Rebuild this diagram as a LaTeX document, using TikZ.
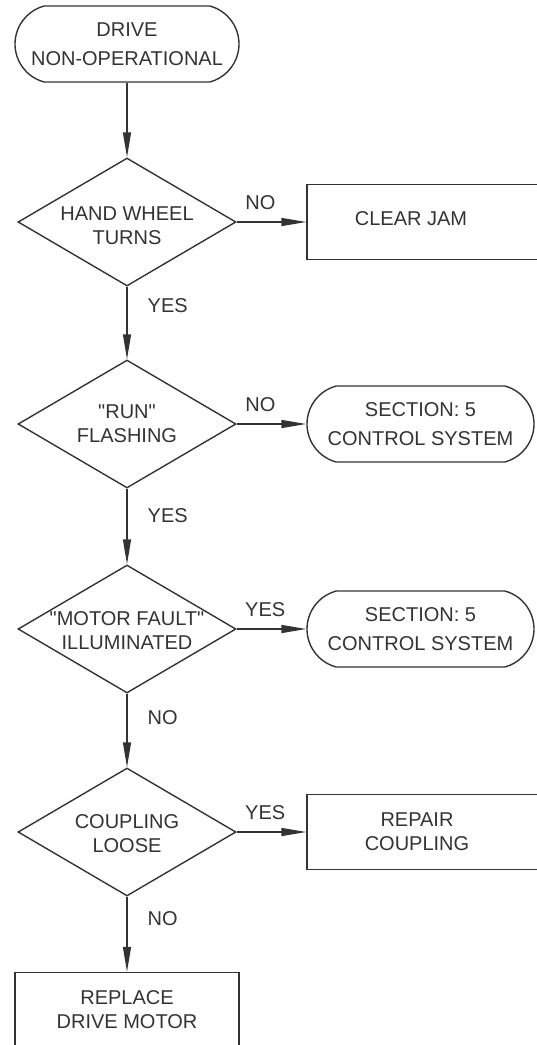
\documentclass[tikz,border=0pt]{standalone}
\usepackage{fontspec}
\setmainfont{Liberation Sans}[Ligatures=TeXOff]
\usetikzlibrary{shapes.geometric,shapes.misc,arrows.meta}

\newcommand{\boxfont}{\fontsize{20}{24}\selectfont}
\newcommand{\termfont}{\fontsize{20}{28.5}\selectfont}

\begin{document}
\begin{tikzpicture}[x=1pt,y=-1pt,line width=1.4pt,color=black!80,
    term/.style={rounded rectangle,rounded rectangle arc length=150,draw,
        minimum height=76,inner sep=0,align=center,font=\termfont},
    dec/.style={diamond,draw,minimum width=218,minimum height=128,inner sep=0},
    act/.style={rectangle,draw,minimum height=75,inner sep=0,align=center,font=\boxfont},
    txt/.style={align=center,font=\boxfont,inner sep=0},
    ans/.style={font=\boxfont,inner sep=2pt},
    flow/.style={-{Triangle[length=25pt,width=8pt]}}]

    % Page frame
    \useasboundingbox (0,0) rectangle (536,1045);

    % Start
    \node[term,minimum width=224] (start) at (127,44) {DRIVE\\NON-OPERATIONAL};

    % Questions down the left side
    \node[dec,label={[txt,name=wheeltxt,yshift=-4]center:{HAND WHEEL\\TURNS}}] (wheel) at (127,222) {};
    \node[dec,label={[txt,name=runtxt]center:{"RUN"\\FLASHING}}] (run) at (127,424) {};
    \node[dec,label={[txt,name=faulttxt,yshift=-2]center:{"MOTOR FAULT"\\ILLUMINATED}}] (fault) at (127,629) {};
    \node[dec,label={[txt,name=couplingtxt,yshift=-2]center:{COUPLING\\LOOSE}}] (coupling) at (127,832) {};

    % Outcomes on the right (cut by the page edge)
    \node[act,minimum width=232,label={[txt,name=jamtxt,xshift=-12,yshift=3]center:{CLEAR JAM}}] (jam) at (423,222) {};
    \node[term,minimum width=227] (ctrla) at (420.5,424) {SECTION: 5\\CONTROL SYSTEM};
    \node[term,minimum width=227] (ctrlb) at (420.5,629) {SECTION: 5\\CONTROL SYSTEM};
    \node[act,minimum width=232,label={[txt,name=repairtxt,xshift=-6]center:{REPAIR\\COUPLING}}] (repair) at (423,832) {};

    % Last step
    \node[act,minimum width=224] (replace) at (127,1010) {REPLACE\\DRIVE MOTOR};

    % Main line
    \draw[flow] (start.south) -- (wheel.north);
    \draw[flow] (wheel.south) -- node[ans,right=18pt,pos=0.26] (yesa) {YES} (run.north);
    \draw[flow] (run.south) -- node[ans,right=18pt,pos=0.36] (yesb) {YES} (fault.north);
    \draw[flow] (fault.south) -- node[ans,right=18pt,pos=0.33] (noc) {NO} (coupling.north);
    \draw[flow] (coupling.south) -- node[ans,right=18pt,pos=0.29] (nod) {NO} (replace.north);

    % Branches
    \draw[flow] (wheel.east) -- node[ans,above=10pt,pos=0.34] (noa) {NO} (jam.west);
    \draw[flow] (run.east) -- node[ans,above=10pt,pos=0.34] (nob) {NO} (ctrla.west);
    \draw[flow] (fault.east) -- node[ans,above=10pt,pos=0.41] (yesc) {YES} (ctrlb.west);
    \draw[flow] (coupling.east) -- node[ans,above=10pt,pos=0.41] (yesd) {YES} (repair.west);

\end{tikzpicture}
\end{document}
